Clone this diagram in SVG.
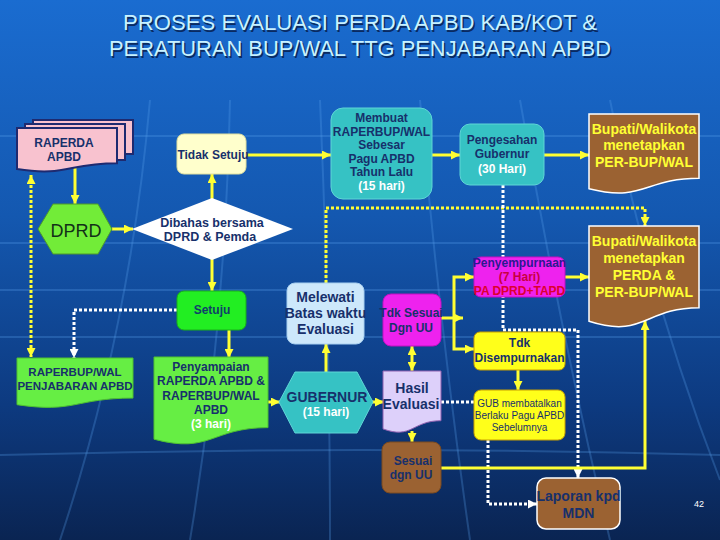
<svg xmlns="http://www.w3.org/2000/svg" width="720" height="540" viewBox="0 0 720 540">
<defs>
<linearGradient id="bg" x1="0" y1="0" x2="0" y2="1">
<stop offset="0" stop-color="#1a6cd0"/>
<stop offset="0.4" stop-color="#1458b0"/>
<stop offset="0.75" stop-color="#0d3a80"/>
<stop offset="1" stop-color="#0a2452"/>
</linearGradient>
<marker id="ay" viewBox="0 0 10 10" refX="10" refY="5" markerWidth="9" markerHeight="9" markerUnits="userSpaceOnUse" orient="auto-start-reverse"><path d="M0,0 L10,5 L0,10 z" fill="#ffff33"/></marker>
<marker id="aw" viewBox="0 0 10 10" refX="10" refY="5" markerWidth="9" markerHeight="9" markerUnits="userSpaceOnUse" orient="auto-start-reverse"><path d="M0,0 L10,5 L0,10 z" fill="#ffffff"/></marker>
<style>
.t{font-family:'Liberation Sans',Arial,sans-serif;font-weight:bold;font-size:12px;fill:#17306b;text-anchor:middle}
.yt{fill:#ffff33;font-size:14px}
.wt{fill:#ffffff}
.ys{stroke:#ffff33;stroke-width:3;fill:none}
.yd{stroke:#ffff33;stroke-width:3;stroke-dasharray:3 2;fill:none}
.wd{stroke:#ffffff;stroke-width:3;stroke-dasharray:3 2;fill:none}
.teal{fill:#36c2c4;stroke:#5fd6d6;stroke-width:1}
.brown{fill:#9b6232;stroke:#ffffff;stroke-width:1.5}
.lg{fill:#66ee44;stroke:#4fc030;stroke-width:1}
.yel{fill:#ffff1a;stroke:#c8a000;stroke-width:1}
.mag{fill:#ee22ee;stroke:#c010c0;stroke-width:1}
.grid{stroke:#5aa0ee;stroke-width:2;fill:none;opacity:0.28}
</style>
</defs>
<g id="background">
<rect width="720" height="540" fill="url(#bg)"/>
<path class="grid" d="M0,136 H720 M0,243 H720 M0,290 H720 M0,337 H720 M0,455 Q360,445 720,455"/>
<path class="grid" d="M150,100 Q130,330 60,540 M230,100 Q225,330 190,540 M320,100 Q330,330 330,540 M420,100 Q440,330 470,540 M520,100 Q560,330 610,540 M610,100 Q650,300 720,480"/>
</g>
<g id="title">
<text x="361.5" y="31.5" font-family="'Liberation Sans',Arial,sans-serif" font-size="22" fill="#0a2a60" text-anchor="middle" textLength="474" lengthAdjust="spacingAndGlyphs">PROSES EVALUASI PERDA APBD KAB/KOT &amp;</text>
<text x="360" y="30" font-family="'Liberation Sans',Arial,sans-serif" font-size="22" fill="#c8f2ff" text-anchor="middle" textLength="474" lengthAdjust="spacingAndGlyphs">PROSES EVALUASI PERDA APBD KAB/KOT &amp;</text>
<text x="361.5" y="57.5" font-family="'Liberation Sans',Arial,sans-serif" font-size="22" fill="#0a2a60" text-anchor="middle" textLength="502" lengthAdjust="spacingAndGlyphs">PERATURAN BUP/WAL TTG PENJABARAN APBD</text>
<text x="360" y="56" font-family="'Liberation Sans',Arial,sans-serif" font-size="22" fill="#c8f2ff" text-anchor="middle" textLength="502" lengthAdjust="spacingAndGlyphs">PERATURAN BUP/WAL TTG PENJABARAN APBD</text>
</g>
<g id="connectors">
<path class="ys" d="M75,166 V204" marker-end="url(#ay)"/>
<path class="yd" d="M31,175 V357" marker-start="url(#ay)" marker-end="url(#ay)"/>
<path class="ys" d="M112,229 H133" marker-end="url(#ay)"/>
<path class="ys" d="M212,199 V174" marker-end="url(#ay)"/>
<path class="ys" d="M246,155 H331" marker-end="url(#ay)"/>
<path class="ys" d="M432,155 H460" marker-end="url(#ay)"/>
<path class="ys" d="M544,155 H589" marker-end="url(#ay)"/>
<path class="ys" d="M212,259 V291" marker-end="url(#ay)"/>
<path class="wd" d="M177,310 H74 V358" marker-end="url(#aw)"/>
<path class="ys" d="M229,330 V358" marker-end="url(#ay)"/>
<path class="ys" d="M267,402 H280" marker-end="url(#ay)"/>
<path class="ys" d="M326,372 V344" marker-end="url(#ay)"/>
<path class="yd" d="M326,283 V208 H645 V226" marker-end="url(#ay)"/>
<path class="ys" d="M372,402 H384" marker-end="url(#ay)"/>
<path class="ys" d="M412,371 V346" marker-start="url(#ay)" marker-end="url(#ay)"/>
<path class="ys" d="M412,431 V442" marker-end="url(#ay)"/>
<path class="ys" d="M441,318 H463" marker-end="url(#ay)"/>
<path class="ys" d="M474,277 H454 V349 H474" marker-start="url(#ay)" marker-end="url(#ay)"/>
<path class="ys" d="M565,277 H589" marker-end="url(#ay)"/>
<path class="wd" d="M503,185 V330 H578 V478" marker-end="url(#aw)"/>
<path class="ys" d="M518,370 V390" marker-end="url(#ay)"/>
<path class="wd" d="M441,402 H474"/>
<path class="wd" d="M488,440 V504 H537" marker-end="url(#aw)"/>
<path class="ys" d="M441,468 H645 V321" marker-end="url(#ay)"/>
</g>
<g id="raperda">
<rect x="33" y="120" width="100" height="34" fill="#f8c2cf" stroke="#1e2a70" stroke-width="2"/>
<rect x="25" y="124" width="100" height="36" fill="#f8c2cf" stroke="#1e2a70" stroke-width="2"/>
<path d="M17,128 H117 V163.3 C67,163.3 67,176.7 17,169.1 Z" fill="#f8c2cf" stroke="#1e2a70" stroke-width="2"/>
<text class="t" x="64" y="147">RAPERDA</text>
<text class="t" x="64" y="161">APBD</text>
</g>
<g id="dprd">
<polygon points="38,229 53,204 98,204 112,229 98,254 53,254" fill="#72ec38" stroke="#4f9a2a" stroke-width="1"/>
<text class="t" x="76" y="237" style="font-size:18px;font-weight:normal;fill:#123018">DPRD</text>
</g>
<g id="dibahas">
<polygon points="132,229 212,198 293,229 212,260" fill="#ffffff"/>
<text class="t" x="212" y="227" style="font-size:12.5px">Dibahas bersama</text>
<text class="t" x="210" y="241" style="font-size:12.5px">DPRD &amp; Pemda</text>
</g>
<g id="tidak-setuju">
<rect x="177" y="134" width="69" height="40" rx="7" fill="#ffffcc" stroke="#e0e0a0" stroke-width="1"/>
<text class="t" x="213" y="159">Tidak Setuju</text>
</g>
<g id="membuat">
<rect x="331" y="108" width="101" height="91" rx="12" class="teal"/>
<text class="t" x="381.5" y="122">Membuat</text>
<text class="t" x="381.5" y="135.5">RAPERBUP/WAL</text>
<text class="t" x="381.5" y="149">Sebesar</text>
<text class="t" x="381.5" y="162.5">Pagu APBD</text>
<text class="t" x="381.5" y="176">Tahun Lalu</text>
<text class="t wt" x="381.5" y="189.5">(15 hari)</text>
</g>
<g id="pengesahan">
<rect x="460" y="124" width="84" height="61" rx="10" class="teal"/>
<text class="t" x="502" y="144">Pengesahan</text>
<text class="t" x="502" y="158">Gubernur</text>
<text class="t wt" x="502" y="173">(30 Hari)</text>
</g>
<g id="bupati-perbup">
<path d="M589,114 H699 V178.2 C644,178.2 644,202.6 589,188.7 Z" class="brown"/>
<text class="t yt" x="644" y="134">Bupati/Walikota</text>
<text class="t yt" x="644" y="150">menetapkan</text>
<text class="t yt" x="644" y="167">PER-BUP/WAL</text>
</g>
<g id="bupati-perda">
<path d="M589,226 H699 V307.8 C644,307.8 644,338.9 589,321.3 Z" class="brown"/>
<text class="t yt" x="644" y="246">Bupati/Walikota</text>
<text class="t yt" x="644" y="263">menetapkan</text>
<text class="t yt" x="644" y="280">PERDA &amp;</text>
<text class="t yt" x="644" y="297">PER-BUP/WAL</text>
</g>
<g id="penyempurnaan">
<rect x="474" y="257" width="91" height="40" rx="7" class="mag"/>
<text class="t" x="519.5" y="267" style="fill:#2a1a90">Penyempurnaan</text>
<text class="t" x="519.5" y="281" style="fill:#c80040">(7 Hari)</text>
<text class="t" x="519.5" y="295" style="fill:#dd0030">PA DPRD+TAPD</text>
</g>
<g id="tdk-sesuai">
<rect x="383" y="294" width="58" height="52" rx="8" class="mag"/>
<text class="t" x="411" y="317">Tdk Sesuai</text>
<text class="t" x="411" y="332">Dgn UU</text>
</g>
<g id="melewati">
<rect x="287" y="283" width="77" height="61" rx="8" fill="#cde8fb" stroke="#a8d0f0" stroke-width="1"/>
<text class="t" x="325.5" y="302" style="font-size:14px">Melewati</text>
<text class="t" x="325.5" y="318" style="font-size:14px">Batas waktu</text>
<text class="t" x="325.5" y="334" style="font-size:14px">Evaluasi</text>
</g>
<g id="setuju">
<rect x="177" y="291" width="69" height="39" rx="7" fill="#22ee22" stroke="#18b018" stroke-width="1"/>
<text class="t" x="212" y="314" style="fill:#10406a">Setuju</text>
</g>
<g id="raperbup-penjabaran">
<path d="M17,358 H133 V398.1 C75,398.1 75,413.4 17,404.7 Z" class="lg"/>
<text class="t" x="75" y="376" style="font-size:11.5px">RAPERBUP/WAL</text>
<text class="t" x="75" y="390" style="font-size:11.5px">PENJABARAN APBD</text>
</g>
<g id="penyampaian">
<path d="M154,357 H268 V427.6 C211,427.6 211,454.4 154,439.2 Z" class="lg"/>
<text class="t" x="211" y="371">Penyampaian</text>
<text class="t" x="211" y="385">RAPERDA APBD &amp;</text>
<text class="t" x="211" y="400">RAPERBUP/WAL</text>
<text class="t" x="211" y="414">APBD</text>
<text class="t wt" x="211" y="428">(3 hari)</text>
</g>
<g id="gubernur">
<polygon points="279,402 295,372 357,372 373,402 357,433 295,433" fill="#36c2c4" stroke="#5fd6d6" stroke-width="1"/>
<text class="t" x="327" y="402" style="font-size:14px">GUBERNUR</text>
<text class="t wt" x="326" y="416">(15 hari)</text>
</g>
<g id="hasil-evaluasi">
<path d="M383,371 H441 V420.7 C412,420.7 412,439.6 383,428.9 Z" fill="#ddd0fa" stroke="#9060b0" stroke-width="1"/>
<text class="t" x="412" y="393" style="font-size:14px">Hasil</text>
<text class="t" x="411" y="409" style="font-size:14px">Evaluasi</text>
</g>
<g id="sesuai">
<rect x="382" y="442" width="59" height="51" rx="8" fill="#9b6232" stroke="#7a4a20" stroke-width="1"/>
<text class="t" x="413" y="465">Sesuai</text>
<text class="t" x="411" y="479">dgn UU</text>
</g>
<g id="tdk-disempurnakan">
<rect x="474" y="332" width="91" height="38" rx="6" class="yel"/>
<text class="t" x="519.5" y="347">Tdk</text>
<text class="t" x="519.5" y="362">Disempurnakan</text>
</g>
<g id="gub-membatalkan">
<rect x="474" y="390" width="91" height="50" rx="7" class="yel"/>
<text class="t" x="519.5" y="407" style="font-size:10px;font-weight:normal">GUB membatalkan</text>
<text class="t" x="519.5" y="419" style="font-size:10px;font-weight:normal">Berlaku Pagu APBD</text>
<text class="t" x="519.5" y="431" style="font-size:10px;font-weight:normal">Sebelumnya</text>
</g>
<g id="laporan">
<rect x="537" y="478" width="83" height="51" rx="9" class="brown"/>
<text class="t" x="578.5" y="501" style="font-size:14px">Laporan kpd</text>
<text class="t" x="578.5" y="518" style="font-size:14px">MDN</text>
</g>
<text x="699" y="507" font-family="'Liberation Sans',Arial,sans-serif" font-size="9" fill="#ffffff" text-anchor="middle">42</text>
</svg>
